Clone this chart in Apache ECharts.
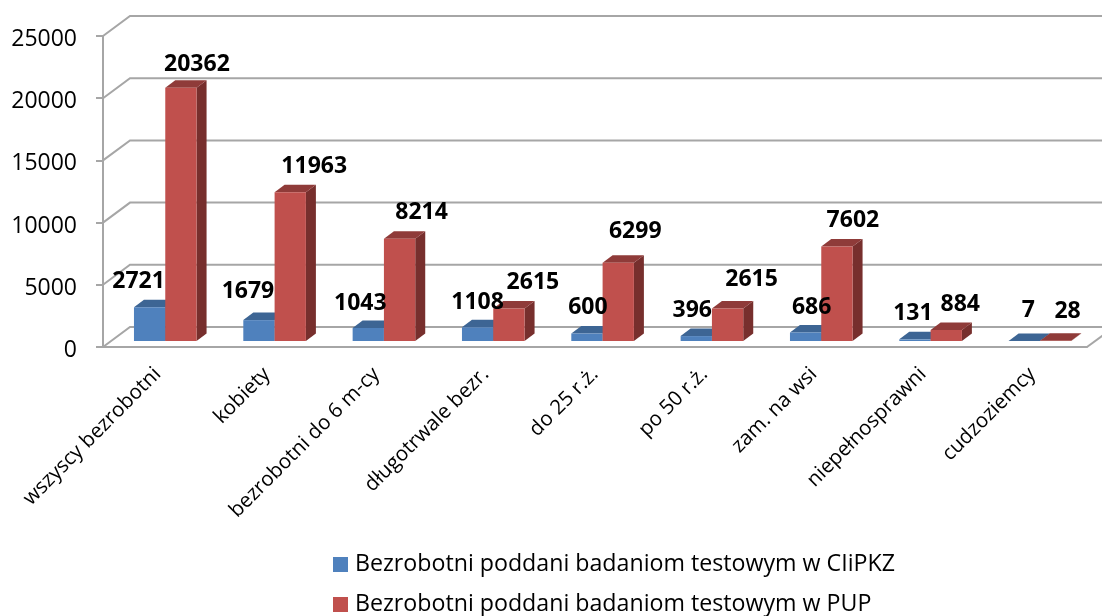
<!DOCTYPE html>
<html>
<head>
<meta charset="utf-8">
<style>
  html, body { margin: 0; padding: 0; background: #fff; }
  #chart { width: 1102px; height: 616px; }
</style>
<script src="https://cdn.jsdelivr.net/npm/echarts@6/dist/echarts.min.js"></script>
</head>
<body>
<div id="chart"></div>
<script>
const categories = ['wszyscy bezrobotni', 'kobiety', 'bezrobotni do 6 m-cy', 'długotrwale bezr.', 'do 25 r.ż.', 'po 50 r.ż.', 'zam. na wsi', 'niepełnosprawni', 'cudzoziemcy']
const nameCiipkz = 'Bezrobotni poddani badaniom testowym w CIiPKZ'
const namePup = 'Bezrobotni poddani badaniom testowym w PUP'
const valuesCiipkz = [2721, 1679, 1043, 1108, 600, 396, 686, 131, 7]
const valuesPup = [20362, 11963, 8214, 2615, 6299, 2615, 7602, 884, 28]
const yTicks = [0, 5000, 10000, 15000, 20000, 25000]

// label shift from the top of its bar, excel placed them by hand
const labelShiftCiipkz = [[-11, -26], [-11, -29], [-8, -25], [0, -25], [1, -26], [-4, -26], [6, -25], [-2, -26], [4, -30]]
const labelShiftPup = [[16, -23], [24, -26], [22, -26], [24, -26], [17, -31], [24, -29], [16, -26], [14, -26], [12, -29]]

const FONT = '"Open Sans", sans-serif'
const GRID_COLOR = '#A6A6A6'
const WALL_DX = 27, WALL_DY = -20     // back wall offset
const BAR_DX = 7.6, BAR_DY = -6       // bar front plane offset
const DEPTH_DX = 10, DEPTH_DY = -7.5  // bar depth
const BAR_WIDTH = 31.3

function wallItem(params, api) {
    const band = api.size([1, 0])[0]
    const v = api.value(1)
    const left = api.coord([0, v])[0] - band / 2
    const right = api.coord([categories.length - 1, v])[0] + band / 2
    const y = api.coord([0, v])[1]
    const line = (points) => ({
        type: 'polyline',
        shape: {points},
        style: {stroke: GRID_COLOR, lineWidth: 2, fill: null}
    })
    const children = [line([[left, y], [left + WALL_DX, y + WALL_DY], [right + WALL_DX, y + WALL_DY]])]
    if (v === 0) {
        children.push(line([[right, y], [right + WALL_DX, y + WALL_DY]]))
    }
    return {type: 'group', children}
}

// slot -1 is the left bar of a category, 0 the right one
function barItem(slot, colors) {
    return function (params, api) {
        const p = api.coord([api.value(0), api.value(1)])
        const base = api.coord([api.value(0), 0])
        const x0 = p[0] + BAR_DX + slot * BAR_WIDTH
        const x1 = x0 + BAR_WIDTH
        const top = p[1] + BAR_DY
        const bottom = base[1] + BAR_DY
        const poly = (points, fill) => ({type: 'polygon', shape: {points}, style: {fill}})
        return {
            type: 'group',
            children: [
                poly([[x1, top], [x1 + DEPTH_DX, top + DEPTH_DY], [x1 + DEPTH_DX, bottom + DEPTH_DY], [x1, bottom]], colors.side),
                poly([[x0, top], [x0 + DEPTH_DX, top + DEPTH_DY], [x1 + DEPTH_DX, top + DEPTH_DY], [x1, top]], colors.top),
                poly([[x0, top], [x1, top], [x1, bottom], [x0, bottom]], colors.front)
            ]
        }
    }
}

function labelItem(slot, shifts) {
    return function (params, api) {
        const p = api.coord([api.value(0), api.value(1)])
        const shift = shifts[params.dataIndex]
        return {
            type: 'text',
            style: {
                text: String(api.value(1)),
                x: p[0] + BAR_DX + (slot + 0.5) * BAR_WIDTH + shift[0],
                y: p[1] + BAR_DY + shift[1],
                align: 'center',
                verticalAlign: 'middle',
                font: 'bold 23px ' + FONT,
                fill: '#000'
            }
        }
    }
}

const toData = (vals) => vals.map((v, i) => [i, v])

const chart = echarts.init(document.getElementById('chart'))
const option = {
    backgroundColor: '#fff',
    animation: false,
    grid: {left: 103, right: 15, top: 36, bottom: 269},
    legend: {
        data: [nameCiipkz, namePup],
        orient: 'vertical',
        left: 333,
        top: 553,
        padding: 0,
        itemWidth: 15,
        itemHeight: 15,
        itemGap: 17,
        icon: 'rect',
        selectedMode: false,
        textStyle: {fontFamily: FONT, fontSize: 23.2, color: '#000', padding: [0, 0, 0, 2]}
    },
    xAxis: {
        type: 'category',
        data: categories,
        axisLine: {lineStyle: {color: GRID_COLOR, width: 2}},
        axisTick: {length: 7, lineStyle: {color: GRID_COLOR, width: 2}},
        axisLabel: {rotate: 45, interval: 0, margin: 24, fontFamily: FONT, fontSize: 20.5, color: '#000'},
        splitLine: {show: false}
    },
    yAxis: {
        type: 'value',
        min: 0,
        max: yTicks[yTicks.length - 1],
        interval: 5000,
        axisLine: {show: true, onZero: false, lineStyle: {color: GRID_COLOR, width: 2}},
        axisTick: {show: true, length: 7, lineStyle: {color: GRID_COLOR, width: 2}},
        axisLabel: {
            margin: 26,
            formatter: (v) => '{n|' + v + '}',
            rich: {n: {fontFamily: FONT, fontSize: 23, color: '#000', padding: [7, 0, 0, 0]}}
        },
        splitLine: {show: false}
    },
    series: [
        {
            type: 'custom', name: 'walls', coordinateSystem: 'cartesian2d', clip: false, silent: true, z: 1,
            data: yTicks.map((v) => [0, v]), renderItem: wallItem
        },
        {
            type: 'custom', name: nameCiipkz, coordinateSystem: 'cartesian2d', clip: false, silent: true, z: 3,
            itemStyle: {color: '#4F81BD'},
            data: toData(valuesCiipkz),
            renderItem: barItem(-1, {front: '#4F81BD', top: '#3D6594', side: '#2F4E74'})
        },
        {
            type: 'custom', name: namePup, coordinateSystem: 'cartesian2d', clip: false, silent: true, z: 4,
            itemStyle: {color: '#C0504D'},
            data: toData(valuesPup),
            renderItem: barItem(0, {front: '#C0504D', top: '#8F3B39', side: '#772F2D'})
        },
        {
            type: 'custom', name: 'labels1', coordinateSystem: 'cartesian2d', clip: false, silent: true, z: 5,
            data: toData(valuesCiipkz), renderItem: labelItem(-1, labelShiftCiipkz)
        },
        {
            type: 'custom', name: 'labels2', coordinateSystem: 'cartesian2d', clip: false, silent: true, z: 5,
            data: toData(valuesPup), renderItem: labelItem(0, labelShiftPup)
        }
    ]
}
chart.setOption(option)
</script>
</body>
</html>
